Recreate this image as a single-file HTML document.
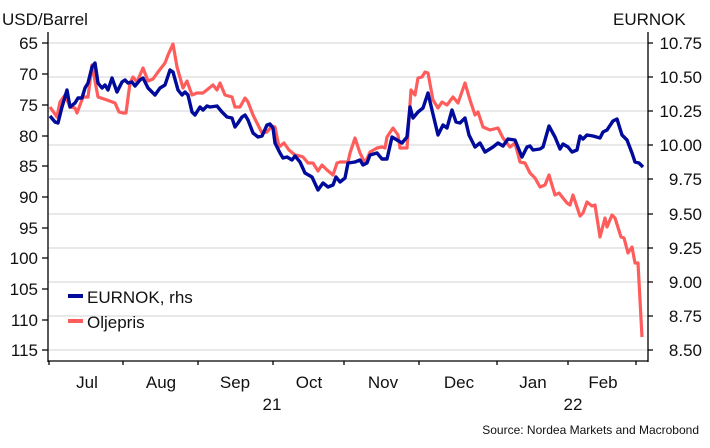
<!DOCTYPE html>
<html><head><meta charset="utf-8"><style>
html,body{margin:0;padding:0;background:#fff;}
svg{display:block;font-family:"Liberation Sans","DejaVu Sans",sans-serif;}
</style></head><body>
<svg width="710" height="448" viewBox="0 0 710 448" xmlns="http://www.w3.org/2000/svg">
<rect width="710" height="448" fill="#fff"/>
<g stroke="#dcdcdc" stroke-width="1.2">
<line x1="48" y1="43" x2="648" y2="43"/><line x1="48" y1="77" x2="648" y2="77"/>
<line x1="48" y1="111" x2="648" y2="111"/><line x1="48" y1="145" x2="648" y2="145"/>
<line x1="48" y1="179" x2="648" y2="179"/><line x1="48" y1="214" x2="648" y2="214"/>
<line x1="48" y1="248" x2="648" y2="248"/><line x1="48" y1="282" x2="648" y2="282"/>
<line x1="48" y1="316" x2="648" y2="316"/><line x1="48" y1="350" x2="648" y2="350"/>
</g>
<g stroke="#000" stroke-width="1.3" fill="none">
<line x1="48" y1="32" x2="48" y2="362"/><line x1="648" y1="32" x2="648" y2="362"/>
<line x1="48" y1="361" x2="648" y2="361"/>
<path d="M49 361v4M123 361v4M198 361v4M273 361v4M344 361v4M419 361v4M497 361v4M568 361v4M636 361v4"/>
<path d="M42 43h6M42 74h6M42 105h6M42 136h6M42 166h6M42 197h6M42 228h6M42 258h6M42 289h6M42 320h6M42 350h6"/>
<path d="M648 43h5M648 77h5M648 111h5M648 145h5M648 179h5M648 214h5M648 248h5M648 282h5M648 316h5M648 350h5"/>
</g>
<g font-size="17" fill="#111" text-anchor="end">
<text x="38" y="49">65</text><text x="38" y="80">70</text><text x="38" y="111">75</text>
<text x="38" y="142">80</text><text x="38" y="172">85</text><text x="38" y="203">90</text>
<text x="38" y="234">95</text><text x="38" y="264">100</text><text x="38" y="295">105</text>
<text x="38" y="326">110</text><text x="38" y="356">115</text>
</g>
<g font-size="17" fill="#111" text-anchor="end">
<text x="702" y="49">10.75</text><text x="702" y="83">10.50</text><text x="702" y="117">10.25</text>
<text x="702" y="151">10.00</text><text x="702" y="185">9.75</text><text x="702" y="220">9.50</text>
<text x="702" y="254">9.25</text><text x="702" y="288">9.00</text><text x="702" y="322">8.75</text>
<text x="702" y="356">8.50</text>
</g>
<text x="2" y="25" font-size="17" fill="#111">USD/Barrel</text>
<text x="613" y="25" font-size="17" fill="#111">EURNOK</text>
<g font-size="17" fill="#111" text-anchor="middle">
<text x="87" y="388">Jul</text><text x="161" y="388">Aug</text><text x="235" y="388">Sep</text>
<text x="309" y="388">Oct</text><text x="383" y="388">Nov</text><text x="459" y="388">Dec</text>
<text x="533" y="388">Jan</text><text x="603" y="388">Feb</text>
<text x="272" y="410">21</text><text x="573" y="410">22</text>
</g>
<text x="699" y="434" font-size="12" fill="#111" text-anchor="end">Source: Nordea Markets and Macrobond</text>
<polyline fill="none" stroke="#ff5c5c" stroke-width="3.2" stroke-linejoin="round" points="50,107 57,117 60,102 65,95 70,107 75,108 77,113 83,97 88,97 92,65 98,97 107,100 115,103 119,112 123,113 126,113 130,83 133,77 137,82 143,68 148,81 153,79 158,72 165,63 168,55 173,44 177,67 183,88 187,81 192,95 197,93 203,93 213,85 217,90 220,83 225,95 232,97 235,107 240,107 245,98 248,102 253,115 258,125 262,133 267,132 272,126 275,127 279,147 284,143 289,150 295,155 300,156 303,157 308,163 313,163 318,171 322,165 327,170 333,175 337,163 340,162 348,162 350,153 355,138 360,153 365,163 370,152 377,148 382,147 385,148 387,137 393,128 398,135 400,148 407,148 411,90 415,95 418,78 422,77 425,72 428,73 433,100 438,108 442,102 447,105 453,97 458,103 465,83 470,100 475,115 478,112 483,127 490,130 498,128 503,138 510,147 515,143 520,162 525,163 530,173 535,178 540,187 545,185 549,175 555,195 559,193 567,203 570,205 573,195 580,216 583,213 587,202 592,206 595,205 600,237 605,218 607,227 612,215 615,218 621,237 624,238 628,253 632,247 635,263 638,263 642,337"/>
<polyline fill="none" stroke="#000a9b" stroke-width="3.4" stroke-linejoin="round" points="50,116 55,122 58,123 62,107 67,90 70,107 75,103 78,98 82,98 85,88 88,83 92,67 95,63 98,83 102,88 105,85 108,90 112,78 117,92 122,82 125,80 128,83 132,82 135,86 140,80 143,78 148,88 155,95 160,88 165,85 170,70 173,72 178,90 182,95 185,92 188,95 192,112 195,115 200,107 203,110 207,106 210,107 217,106 222,112 227,117 232,118 235,127 238,123 242,117 245,115 248,120 253,133 258,137 262,136 267,125 270,124 273,128 275,143 280,153 283,158 287,157 292,160 295,156 300,162 305,173 312,177 318,190 323,183 328,187 333,185 336,177 340,182 345,178 348,163 355,162 360,160 363,165 367,163 370,155 377,153 382,159 387,159 392,137 397,140 402,143 407,137 410,107 413,118 418,112 423,108 428,93 432,110 438,135 443,125 447,128 452,110 456,122 460,123 465,118 469,135 475,147 480,143 485,152 493,147 498,143 503,146 508,139 515,140 522,157 527,147 530,146 533,150 540,149 543,147 549,126 555,137 560,149 563,144 568,147 572,152 577,150 580,136 583,139 587,135 593,136 600,138 603,132 607,130 613,121 617,119 622,135 627,140 632,153 635,162 639,163 643,167"/>
<line x1="68" y1="296" x2="83" y2="296" stroke="#000a9b" stroke-width="4"/>
<line x1="68" y1="321" x2="83" y2="321" stroke="#ff5c5c" stroke-width="4"/>
<text x="87" y="303" font-size="17" fill="#111">EURNOK, rhs</text>
<text x="87" y="328" font-size="17" fill="#111">Oljepris</text>
</svg>
</body></html>
